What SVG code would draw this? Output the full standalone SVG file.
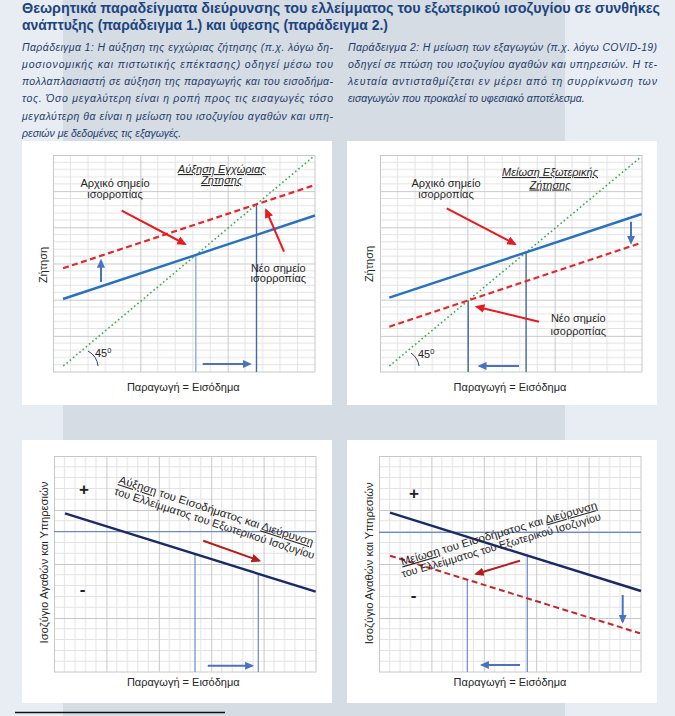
<svg xmlns="http://www.w3.org/2000/svg" width="675" height="716" viewBox="0 0 675 716">
<style>
.title{font-family:"Liberation Sans","DejaVu Sans",sans-serif;font-weight:bold;font-size:14.3px;fill:#1c4480}
.para{font-family:"Liberation Sans","DejaVu Sans",sans-serif;font-style:italic;font-size:10.5px;fill:#1f3d6d}
.lbl{font-family:"Liberation Sans","DejaVu Sans",sans-serif;font-size:11px;fill:#262626}
.ital{font-style:italic}
.u{text-decoration:underline}
.sign{font-family:"Liberation Sans","DejaVu Sans",sans-serif;font-size:17px;font-weight:bold;fill:#222}
.panel{fill:#ffffff}
.border{fill:none;stroke:#c8c8c8;stroke-width:1}
.demand{stroke:#2870c0;stroke-width:2.4;fill:none}
.demand2{stroke:#e6262c;stroke-width:2.2;stroke-dasharray:6,3.5;fill:none}
.diag{stroke:#3aa85a;stroke-width:1.6;stroke-dasharray:1.6,2.6;fill:none}
.vl1{stroke:#8eaadb;stroke-width:1.4}
.vl2{stroke:#45689f;stroke-width:1.4}
.axis{stroke:#6b8cc8;stroke-width:1.2}
.navy{stroke:#1b2a66;stroke-width:2.4;fill:none}
.reddash{stroke:#c4262b;stroke-width:2;stroke-dasharray:6,3.5;fill:none}
.barrow{stroke:#4a72c0;stroke-width:2;fill:none;marker-end:url(#mBlue)}
.rarrow{stroke:#e8191f;stroke-width:2;fill:none;marker-end:url(#mRed)}
.darrow{stroke:#b71c1c;stroke-width:2;fill:none;marker-end:url(#mDRed)}
.arc{stroke:#2a3f7a;stroke-width:1;fill:none}
</style>
<defs>
<pattern id="gTop" patternUnits="userSpaceOnUse" width="87.333" height="36.167">
<path d="M17.467,0V36.167M34.933,0V36.167M52.4,0V36.167M69.867,0V36.167M0,7.233H87.333M0,14.467H87.333M0,21.7H87.333M0,28.933H87.333" stroke="#e3e3e3" stroke-width="1"/>
<path d="M0.5,0V36.167M0,0.5H87.333" stroke="#c8c8c8" stroke-width="1"/>
</pattern>
<pattern id="gBot" patternUnits="userSpaceOnUse" width="52.4" height="54">
<path d="M10.48,0V54M20.96,0V54M31.44,0V54M41.92,0V54M0,10.8H52.4M0,21.6H52.4M0,32.4H52.4M0,43.2H52.4" stroke="#e3e3e3" stroke-width="1"/>
<path d="M0.5,0V54M0,0.5H52.4" stroke="#c8c8c8" stroke-width="1"/>
</pattern>
<marker id="mBlue" viewBox="0 0 10 10" refX="8" refY="5" markerWidth="4.5" markerHeight="4.5" orient="auto"><path d="M0,0.5L10,5L0,9.5z" fill="#4a72c0"/></marker>
<marker id="mRed" viewBox="0 0 10 10" refX="8" refY="5" markerWidth="4.8" markerHeight="4.8" orient="auto"><path d="M0,0.5L10,5L0,9.5z" fill="#e8191f"/></marker>
<marker id="mDRed" viewBox="0 0 10 10" refX="8" refY="5" markerWidth="4.8" markerHeight="4.8" orient="auto"><path d="M0,0.5L10,5L0,9.5z" fill="#b71c1c"/></marker>
</defs>

<!-- background -->
<rect x="0" y="0" width="675" height="716" fill="#e8edf3"/>
<rect x="63" y="0" width="502" height="716" fill="#d5dce3"/>
<line x1="15" y1="712.5" x2="225" y2="712.5" stroke="#111" stroke-width="1.5"/>

<!-- title -->
<g id="title">
<text class="title" x="22" y="13" textLength="638" lengthAdjust="spacingAndGlyphs">Θεωρητικά παραδείγματα διεύρυνσης του ελλείμματος του εξωτερικού ισοζυγίου σε συνθήκες</text>
<text class="title" x="22" y="29.5" textLength="366" lengthAdjust="spacingAndGlyphs">ανάπτυξης (παράδειγμα 1.) και ύφεσης (παράδειγμα 2.)</text>
</g>

<g id="text-example1">
<text class="para" x="22" y="50.5" textLength="311" lengthAdjust="spacing">Παράδειγμα 1: Η αύξηση της εγχώριας ζήτησης (π.χ. λόγω δη-</text>
<text class="para" x="22" y="67.8" textLength="311" lengthAdjust="spacing">μοσιονομικής και πιστωτικής επέκτασης) οδηγεί μέσω του</text>
<text class="para" x="22" y="85.1" textLength="311" lengthAdjust="spacing">πολλαπλασιαστή σε αύξηση της παραγωγής και του εισοδήμα-</text>
<text class="para" x="22" y="102.4" textLength="311" lengthAdjust="spacing">τος. Όσο μεγαλύτερη είναι η ροπή προς τις εισαγωγές τόσο</text>
<text class="para" x="22" y="119.7" textLength="311" lengthAdjust="spacing">μεγαλύτερη θα είναι η μείωση του ισοζυγίου αγαθών και υπη-</text>
<text class="para" x="22" y="137">ρεσιών με δεδομένες τις εξαγωγές.</text>
</g>
<g id="text-example2">
<text class="para" x="348" y="50.5" textLength="309" lengthAdjust="spacing">Παράδειγμα 2: Η μείωση των εξαγωγών (π.χ. λόγω COVID-19)</text>
<text class="para" x="348" y="67.8" textLength="309" lengthAdjust="spacing">οδηγεί σε πτώση του ισοζυγίου αγαθών και υπηρεσιών. Η τε-</text>
<text class="para" x="348" y="85.1" textLength="309" lengthAdjust="spacing">λευταία αντισταθμίζεται εν μέρει από τη συρρίκνωση των</text>
<text class="para" x="348" y="102.4">εισαγωγών που προκαλεί το υφεσιακό αποτέλεσμα.</text>
</g>

<!-- panel 1: top-left -->
<g id="chart1">
<rect class="panel" x="22" y="141" width="310" height="264"/>
<g transform="translate(53,155)"><rect width="262" height="217" fill="url(#gTop)"/><rect class="border" x="0.5" y="0.5" width="261.5" height="216.5"/></g>
<line class="vl1" x1="195.8" y1="255" x2="195.8" y2="372"/>
<line class="vl2" x1="256.5" y1="204.3" x2="256.5" y2="372"/>
<line class="diag" x1="63.3" y1="366" x2="313.3" y2="156.7"/>
<line class="demand2" x1="63" y1="268.3" x2="315" y2="185"/>
<line class="demand" x1="63" y1="299" x2="315" y2="215.5"/>
<path class="arc" d="M88,351 Q97,356 98,366"/>
<text class="lbl" x="95" y="356.5">45<tspan font-size="7.5" dy="-4">0</tspan></text>
<text class="lbl" text-anchor="middle" x="115" y="186.5">Αρχικό σημείο</text>
<text class="lbl" text-anchor="middle" x="115" y="198">ισορροπίας</text>
<text class="lbl ital u" text-anchor="middle" x="221.7" y="173">Αύξηση Εγχώριας</text>
<text class="lbl ital u" text-anchor="middle" x="221.7" y="184">Ζήτησης</text>
<text class="lbl" text-anchor="middle" x="278.3" y="271.5">Νέο σημείο</text>
<text class="lbl" text-anchor="middle" x="278.3" y="282">ισορροπίας</text>
<text class="lbl" text-anchor="middle" transform="translate(46.5,265) rotate(-90)">Ζήτηση</text>
<text class="lbl" text-anchor="middle" x="183.3" y="390.5">Παραγωγή = Εισόδημα</text>
</g>

<!-- panel 2: top-right -->
<g id="chart2">
<rect class="panel" x="347" y="141" width="310" height="264"/>
<g transform="translate(380,155)"><rect width="262" height="217" fill="url(#gTop)"/><rect class="border" x="0.5" y="0.5" width="261.5" height="216.5"/></g>
<line class="vl2" x1="526.1" y1="252.3" x2="526.1" y2="372"/>
<line class="vl2" x1="468.2" y1="300.4" x2="468.2" y2="372"/>
<line class="diag" x1="389.3" y1="366" x2="639.3" y2="158.3"/>
<line class="demand" x1="389.3" y1="297.7" x2="641.7" y2="214"/>
<line class="demand2" x1="389.3" y1="326.7" x2="641.7" y2="242.7"/>
<path class="arc" d="M411,353 Q418,358 419,366"/>
<text class="lbl" x="418" y="358">45<tspan font-size="7.5" dy="-4">0</tspan></text>
<text class="lbl" text-anchor="middle" x="446" y="187">Αρχικό σημείο</text>
<text class="lbl" text-anchor="middle" x="446" y="198">ισορροπίας</text>
<text class="lbl ital u" text-anchor="middle" x="550" y="176">Μείωση Εξωτερικής</text>
<text class="lbl ital u" text-anchor="middle" x="550" y="188.5">Ζήτησης</text>
<text class="lbl" text-anchor="middle" x="578.3" y="322">Νέο σημείο</text>
<text class="lbl" text-anchor="middle" x="578.3" y="334.5">ισορροπίας</text>
<text class="lbl" text-anchor="middle" transform="translate(373,264) rotate(-90)">Ζήτηση</text>
<text class="lbl" text-anchor="middle" x="510" y="390.5">Παραγωγή = Εισόδημα</text>
</g>

<!-- panel 3: bottom-left -->
<g id="chart3">
<rect class="panel" x="22" y="440" width="310" height="263"/>
<g transform="translate(54,456)"><rect width="262" height="216" fill="url(#gBot)"/><rect class="border" x="0.5" y="0.5" width="261.5" height="215.5"/></g>
<line class="axis" x1="54" y1="531.7" x2="316" y2="531.7"/>
<line class="axis" x1="195" y1="554" x2="195" y2="672"/>
<line class="axis" x1="258.3" y1="573.7" x2="258.3" y2="672"/>
<line class="navy" x1="65" y1="513.3" x2="315.7" y2="591.7"/>
<text class="sign" text-anchor="middle" x="84" y="495">+</text>
<text class="sign" text-anchor="middle" x="82.5" y="595">-</text>
<g transform="translate(119.3,479.3) rotate(18)">
<text class="lbl" x="0" y="3.8" textLength="204" lengthAdjust="spacingAndGlyphs"><tspan class="u">Αύξηση</tspan> του Εισοδήματος και <tspan class="u">Διεύρυνση</tspan></text>
<text class="lbl" x="-1" y="16" textLength="210" lengthAdjust="spacingAndGlyphs">του Ελλείμματος του Εξωτερικού Ισοζυγίου</text>
</g>
<text class="lbl" text-anchor="middle" textLength="162" lengthAdjust="spacingAndGlyphs" transform="translate(48,562.5) rotate(-90)">Ισοζύγιο Αγαθών και Υπηρεσιών</text>
<text class="lbl" text-anchor="middle" x="183.3" y="685.5">Παραγωγή = Εισόδημα</text>
</g>

<!-- panel 4: bottom-right -->
<g id="chart4">
<rect class="panel" x="347" y="440" width="310" height="263"/>
<g transform="translate(379,456)"><rect width="262" height="216" fill="url(#gBot)"/><rect class="border" x="0.5" y="0.5" width="261.5" height="215.5"/></g>
<line class="axis" x1="379" y1="532.3" x2="641" y2="532.3"/>
<line class="axis" x1="527.3" y1="555.5" x2="527.3" y2="672"/>
<line class="axis" x1="467.3" y1="579.7" x2="467.3" y2="672"/>
<line class="navy" x1="390" y1="512.7" x2="641" y2="591"/>
<line class="reddash" x1="390" y1="555.7" x2="640" y2="633.3"/>
<text class="sign" text-anchor="middle" x="414" y="499">+</text>
<text class="sign" text-anchor="middle" x="413.5" y="601">-</text>
<g transform="translate(401,561.7) rotate(-16.2)">
<text class="lbl" x="0" y="3.8" textLength="204" lengthAdjust="spacingAndGlyphs"><tspan class="u">Μείωση</tspan> του Εισοδήματος και <tspan class="u">Διεύρυνση</tspan></text>
<text class="lbl" x="-2.8" y="15.8" textLength="207" lengthAdjust="spacingAndGlyphs">του Ελλείμματος του Εξωτερικού Ισοζυγίου</text>
</g>
<text class="lbl" text-anchor="middle" textLength="162" lengthAdjust="spacingAndGlyphs" transform="translate(373,563.3) rotate(-90)">Ισοζύγιο Αγαθών και Υπηρεσιών</text>
<text class="lbl" text-anchor="middle" x="510" y="686">Παραγωγή = Εισόδημα</text>
</g>

<!-- connectors (arrows) -->
<g id="connectors">
<line class="barrow" x1="202.7" y1="364" x2="250" y2="364"/>
<line class="barrow" x1="101" y1="282" x2="101" y2="260.5"/>
<line class="rarrow" x1="121.7" y1="210.7" x2="185" y2="244"/>
<line class="rarrow" x1="284" y1="251.7" x2="266" y2="210"/>
<line class="barrow" x1="519" y1="366" x2="479.3" y2="366"/>
<line class="barrow" x1="631" y1="221.7" x2="631" y2="243"/>
<line class="rarrow" x1="446.7" y1="208.3" x2="515" y2="244"/>
<line class="rarrow" x1="539" y1="321.7" x2="476.7" y2="306.7"/>
<line class="barrow" x1="207.7" y1="665.7" x2="252.3" y2="665.7"/>
<line class="darrow" x1="203.3" y1="540.7" x2="259.3" y2="560.7"/>
<line class="barrow" x1="520" y1="665" x2="481.7" y2="665"/>
<line class="barrow" x1="622.7" y1="595" x2="622.7" y2="622"/>
<line class="darrow" x1="520" y1="560.7" x2="476" y2="574"/>
</g>
</svg>
